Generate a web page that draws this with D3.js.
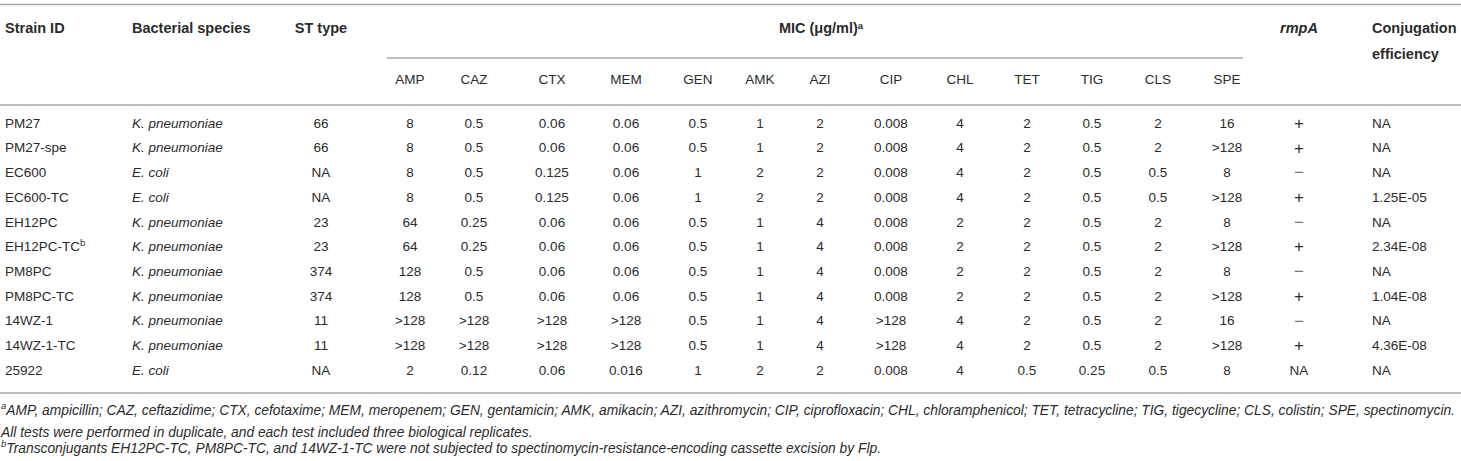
<!DOCTYPE html>
<html>
<head>
<meta charset="utf-8">
<title>MIC table</title>
<script src="https://cdn.jsdelivr.net/npm/d3@7"></script>
<style>
	body { margin: 0; background: #fff; }
	svg text { font-family: "Liberation Sans", Arial, Helvetica, sans-serif; fill: #2b2b2b; }
	.head { font-weight: bold; font-size: 14.5px; }
	.sub { font-size: 13.5px; }
	.cell { font-size: 13.5px; }
	.note { font-size: 13.8px; font-style: italic; }
	.rule { stroke: #a8a8a8; stroke-width: 1.6; }
</style>
</head>
<body>
<svg id="tbl" width="1461" height="461"></svg>
<script>
var strains = ["PM27", "PM27-spe", "EC600", "EC600-TC", "EH12PC", "EH12PC-TC", "PM8PC", "PM8PC-TC", "14WZ-1", "14WZ-1-TC", "25922"];
var strainNotes = ["", "", "", "", "", "b", "", "", "", "", ""];
var species = ["K. pneumoniae", "K. pneumoniae", "E. coli", "E. coli", "K. pneumoniae", "K. pneumoniae", "K. pneumoniae", "K. pneumoniae", "K. pneumoniae", "K. pneumoniae", "E. coli"];
var stTypes = ["66", "66", "NA", "NA", "23", "23", "374", "374", "11", "11", "NA"];
var drugs = ["AMP", "CAZ", "CTX", "MEM", "GEN", "AMK", "AZI", "CIP", "CHL", "TET", "TIG", "CLS", "SPE"];
var mic = [
	["8", "0.5", "0.06", "0.06", "0.5", "1", "2", "0.008", "4", "2", "0.5", "2", "16"],
	["8", "0.5", "0.06", "0.06", "0.5", "1", "2", "0.008", "4", "2", "0.5", "2", ">128"],
	["8", "0.5", "0.125", "0.06", "1", "2", "2", "0.008", "4", "2", "0.5", "0.5", "8"],
	["8", "0.5", "0.125", "0.06", "1", "2", "2", "0.008", "4", "2", "0.5", "0.5", ">128"],
	["64", "0.25", "0.06", "0.06", "0.5", "1", "4", "0.008", "2", "2", "0.5", "2", "8"],
	["64", "0.25", "0.06", "0.06", "0.5", "1", "4", "0.008", "2", "2", "0.5", "2", ">128"],
	["128", "0.5", "0.06", "0.06", "0.5", "1", "4", "0.008", "2", "2", "0.5", "2", "8"],
	["128", "0.5", "0.06", "0.06", "0.5", "1", "4", "0.008", "2", "2", "0.5", "2", ">128"],
	[">128", ">128", ">128", ">128", "0.5", "1", "4", ">128", "4", "2", "0.5", "2", "16"],
	[">128", ">128", ">128", ">128", "0.5", "1", "4", ">128", "4", "2", "0.5", "2", ">128"],
	["2", "0.12", "0.06", "0.016", "1", "2", "2", "0.008", "4", "0.5", "0.25", "0.5", "8"]
];
var rmpA = ["+", "+", "\u2212", "+", "\u2212", "+", "\u2212", "+", "\u2212", "+", "NA"];
var conjugation = ["NA", "NA", "NA", "1.25E-05", "NA", "2.34E-08", "NA", "1.04E-08", "NA", "4.36E-08", "NA"];
var footnotes = [
	{ mark: "a", text: "AMP, ampicillin; CAZ, ceftazidime; CTX, cefotaxime; MEM, meropenem; GEN, gentamicin; AMK, amikacin; AZI, azithromycin; CIP, ciprofloxacin; CHL, chloramphenicol; TET, tetracycline; TIG, tigecycline; CLS, colistin; SPE, spectinomycin." },
	{ mark: "", text: "All tests were performed in duplicate, and each test included three biological replicates." },
	{ mark: "b", text: "Transconjugants EH12PC-TC, PM8PC-TC, and 14WZ-1-TC were not subjected to spectinomycin-resistance-encoding cassette excision by Flp." }
];

// ---- layout ----
var W = 1461;
var svg = d3.select("#tbl");

var y = d3.scaleLinear().domain([0, strains.length - 1]).range([123, 370]);
var x = d3.scaleOrdinal()
	.domain(drugs)
	.range([410, 474, 552, 626, 698, 760, 820, 891, 960, 1027, 1092, 1158, 1227]);
var col = { strain: 5, species: 132, st: 321, rmp: 1299, conj: 1372 };
var micSpan = [387, 1243];
var noteY = d3.scaleLinear().domain([0, 2]).range([413, 451]);

// rules
svg.append("line").attr("class", "rule").attr("x1", 0).attr("x2", W).attr("y1", 4.5).attr("y2", 4.5);
svg.append("line").attr("class", "rule").attr("x1", micSpan[0]).attr("x2", micSpan[1]).attr("y1", 58).attr("y2", 58);
svg.append("line").attr("class", "rule").attr("x1", 0).attr("x2", W).attr("y1", 105).attr("y2", 105);
svg.append("line").attr("class", "rule").attr("x1", 0).attr("x2", W).attr("y1", 393).attr("y2", 393);

// header row 1
var h1 = 28;
function head(txt, xx, yy, anchor) {
	return svg.append("text").attr("class", "head").attr("x", xx).attr("y", yy)
		.attr("dy", "0.35em").attr("text-anchor", anchor || "start").text(txt);
}
head("Strain ID", col.strain, h1);
head("Bacterial species", col.species, h1);
head("ST type", col.st, h1, "middle");
var micHead = head("MIC (\u03bcg/ml)", (micSpan[0] + micSpan[1]) / 2 + 6, h1, "middle");
micHead.append("tspan").attr("font-size", "9.5px").attr("dy", "-0.45em").text("a");
head("rmpA", col.rmp, h1, "middle").style("font-style", "italic");
head("Conjugation", col.conj, h1);
head("efficiency", col.conj, 54);

// header row 2: drug names
svg.selectAll("text.sub").data(drugs).join("text")
	.attr("class", "sub")
	.attr("x", function(d) { return x(d); })
	.attr("y", 79)
	.attr("dy", "0.35em")
	.attr("text-anchor", "middle")
	.text(function(d) { return d; });

// body rows
var rows = svg.selectAll("g.row").data(strains).join("g")
	.attr("class", "row")
	.attr("transform", function(d, i) { return "translate(0," + y(i) + ")"; });

var sid = rows.append("text").attr("class", "cell").attr("x", col.strain).attr("dy", "0.35em")
	.text(function(d) { return d; });
sid.filter(function(d, i) { return strainNotes[i]; })
	.append("tspan").attr("font-size", "9.5px").attr("dy", "-0.5em")
	.text(function(d) { return strainNotes[strains.indexOf(d)]; });

rows.append("text").attr("class", "cell").attr("x", col.species).attr("dy", "0.35em")
	.style("font-style", "italic")
	.text(function(d, i) { return species[i]; });

rows.append("text").attr("class", "cell").attr("x", col.st).attr("dy", "0.35em")
	.attr("text-anchor", "middle")
	.text(function(d, i) { return stTypes[i]; });

rows.each(function(d, i) {
	d3.select(this).selectAll("text.mic").data(mic[i]).join("text")
		.attr("class", "cell mic")
		.attr("x", function(v, j) { return x(drugs[j]); })
		.attr("dy", "0.35em")
		.attr("text-anchor", "middle")
		.text(function(v) { return v; });
});

rows.append("text").attr("class", "cell").attr("x", col.rmp).attr("dy", "0.35em")
	.attr("text-anchor", "middle")
	.style("font-size", function(d, i) { return rmpA[i] === "NA" ? "13.5px" : "17px"; })
	.style("fill", function(d, i) { return rmpA[i] === "\u2212" ? "#777" : "#2b2b2b"; })
	.text(function(d, i) { return rmpA[i]; });

rows.append("text").attr("class", "cell").attr("x", col.conj).attr("dy", "0.35em")
	.text(function(d, i) { return conjugation[i]; });

// footnotes
var notes = svg.selectAll("text.note").data(footnotes).join("text")
	.attr("class", "note")
	.attr("x", 1)
	.attr("y", function(d, i) { return noteY(i); })
	.attr("dy", "0.35em");
notes.append("tspan").attr("font-size", "9.5px").attr("dy", "-0.45em")
	.text(function(d) { return d.mark; });
notes.append("tspan").attr("dy", function(d) { return d.mark ? "0.45em" : null; })
	.text(function(d) { return d.text; });
</script>
</body>
</html>
